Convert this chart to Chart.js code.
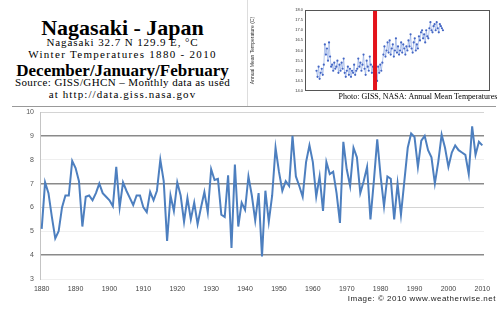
<!DOCTYPE html>
<html><head><meta charset="utf-8">
<script src="https://cdn.jsdelivr.net/npm/chart.js@4.4.1/dist/chart.umd.min.js"></script>
<style>
html,body{margin:0;padding:0;background:#fff;width:501px;height:309px;overflow:hidden;}
body{position:relative;font-family:"Liberation Serif","Times New Roman",serif;}
.t{position:absolute;left:0;width:245px;text-align:center;white-space:nowrap;color:#000;}
#title{top:17px;font-size:22px;line-height:22px;font-weight:bold;}
#l2{top:37px;font-size:11px;line-height:11px;letter-spacing:0.9px;}
#l3{top:49px;font-size:11px;line-height:11px;letter-spacing:1.3px;}
#l4{top:62px;font-size:17px;line-height:17px;font-weight:bold;}
#l5{top:77px;font-size:11px;line-height:11px;letter-spacing:0.4px;}
#l6{top:89px;font-size:11px;line-height:11px;letter-spacing:1.1px;}
#sepH{position:absolute;left:12px;top:106px;width:484px;height:1px;background:#999;}
#sepV{position:absolute;left:247px;top:0;width:1px;height:106px;background:#ddd;}
#cap{position:absolute;left:330px;width:176px;top:93px;font-size:8px;line-height:8px;text-align:center;white-space:nowrap;}
#credit{position:absolute;left:300px;width:196px;top:295px;font-family:"Liberation Sans",Arial,sans-serif;font-size:8px;line-height:8px;letter-spacing:0.5px;text-align:right;white-space:nowrap;color:#222;}
#main{position:absolute;left:0;top:100px;}
#inset{position:absolute;left:250px;top:0;}
</style></head><body>
<div class="t" id="title">Nagasaki - Japan</div>
<div class="t" id="l2">Nagasaki 32.7 N 129.9 E, °C</div>
<div class="t" id="l3">Winter Temperatures 1880 - 2010</div>
<div class="t" id="l4">December/January/February</div>
<div class="t" id="l5">Source: GISS/GHCN – Monthly data as used</div>
<div class="t" id="l6">at http://data.giss.nasa.gov</div>
<div id="sepV"></div>
<div id="sepH"></div>
<canvas id="inset" width="251" height="96"></canvas>
<div id="cap">Photo: GISS, NASA: Annual Mean Temperatures</div>
<canvas id="main" width="501" height="209"></canvas>
<div id="credit">Image: © 2010 www.weatherwise.net</div>
<script>
// ---- Main chart data: DJF winter mean temperature (°C), 1880-2010 ----
const years = [];
for (let y = 1880; y <= 2010; y++) years.push(y);
const winterTemps = [
 5.1, 7.05, 6.6, 5.6, 4.7, 5.0, 6.0, 6.5, 6.5, 7.95,   // 1880-1889
 7.65, 7.1, 5.2, 6.45, 6.5, 6.3, 6.6, 7.0, 6.6, 6.45,  // 1890-1899
 6.3, 6.05, 7.7, 6.0, 7.05, 6.7, 6.4, 6.1, 6.5, 6.5,   // 1900-1909
 6.0, 5.8, 6.65, 6.3, 6.7, 8.0, 7.1, 4.6, 6.5, 5.85,   // 1910-1919
 7.05, 6.5, 5.4, 6.4, 5.5, 6.2, 5.3, 6.0, 6.65, 5.8,   // 1920-1929
 7.6, 7.15, 7.2, 5.7, 5.6, 7.35, 4.3, 7.8, 5.2, 6.2,   // 1930-1939
 5.9, 7.3, 6.5, 5.45, 6.6, 3.95, 6.7, 5.4, 6.5, 8.5,   // 1940-1949
 7.5, 6.7, 7.1, 6.9, 9.0, 7.3, 6.9, 6.45, 7.9, 8.6,    // 1950-1959
 7.9, 6.45, 7.3, 5.85, 7.9, 7.4, 7.5, 6.6, 5.35, 8.75, // 1960-1969
 7.6, 6.9, 8.5, 8.1, 6.6, 7.1, 7.7, 5.5, 7.1, 8.85,    // 1970-1979
 7.3, 6.05, 7.3, 7.2, 5.5, 7.0, 5.7, 7.1, 8.5, 9.1,    // 1980-1989
 8.95, 7.7, 8.8, 9.0, 8.4, 8.1, 7.0, 7.9, 9.05, 8.5,   // 1990-1999
 7.7, 8.3, 8.6, 8.4, 8.3, 8.2, 7.4, 9.4, 8.2, 8.75,    // 2000-2009
 8.6                                                   // 2010
];
const yTicks = [3, 4, 5, 6, 7, 8, 9, 10];

// ---- Inset (GISS annual mean thumbnail) data ----
const insetYears = [];
for (let y = 1889; y <= 2010; y++) insetYears.push(y);
const insetTemps = [
 15.0, 14.7, 15.2, 14.6, 14.9, 15.1, 14.8,
 15.3, 16.3, 15.8, 16.1, 15.5, 16.4, 15.7, 15.2,
 15.3, 15.0, 15.4, 15.1, 15.2, 15.5, 14.9, 15.3, 15.0, 15.4, 15.1, 15.6,
 14.9, 14.7, 15.0, 15.2, 14.8, 15.1, 14.7, 15.0, 14.9, 15.3, 14.8, 15.0, 15.1, 15.6, 15.2,
 15.4, 15.0, 15.3, 15.8, 15.1, 14.8, 15.5, 15.2, 15.0, 15.7, 15.3, 14.9, 15.2, 14.7,
 14.6, 15.0, 14.5, 15.2, 14.9, 15.3, 15.0, 15.4,
 15.8, 16.2, 15.7, 16.0, 16.4, 15.9, 16.5, 15.8, 16.1, 16.3, 15.7, 16.0, 16.6, 15.9, 16.2, 15.8, 16.0, 16.4, 15.9, 16.3, 16.1, 15.8, 16.2,
 16.0, 16.5, 16.2, 16.8, 16.1, 15.9, 16.4, 16.6, 16.0, 16.3, 16.1, 16.7, 16.5, 16.9, 17.0, 16.6, 16.8, 16.4, 17.0, 16.7,
 16.6, 17.1, 17.4, 17.0, 16.9, 17.2, 17.3, 17.0, 17.4, 17.1, 16.9, 17.3, 17.2, 17.1, 17.0
];
const markerYear = 1945;
const insetYTicks = [14, 14.5, 15, 15.5, 16, 16.5, 17, 17.5, 18];

// ---- Main chart ----
new Chart(document.getElementById('main'), {
  type: 'line',
  data: {
    labels: years.map(String),
    datasets: [{
      data: winterTemps,
      borderColor: '#4d7fbf',
      borderWidth: 2,
      pointRadius: 0,
      tension: 0,
      fill: false
    }]
  },
  options: {
    responsive: false,
    animation: false,
    devicePixelRatio: 1,
    layout: { padding: { top: 12, right: 17, left: 0, bottom: 0 } },
    plugins: { legend: { display: false }, tooltip: { enabled: false } },
    scales: {
      x: {
        type: 'category',
        offset: true,
        grid: { display: false, drawTicks: false },
        border: { display: false },
        ticks: {
          autoSkip: false, maxRotation: 0, minRotation: 0,
          font: { family: 'Liberation Sans', size: 7 }, color: '#444', padding: 6,
          callback: function (v, i) { const y = years[i]; return (y % 10 === 0) ? String(y) : null; }
        },
        afterFit: s => { s.height = 30; }
      },
      y: {
        min: 3, max: 10,
        afterBuildTicks: s => { s.ticks = yTicks.map(v => ({ value: v })); },
        ticks: { font: { family: 'Liberation Sans', size: 7 }, color: '#555', padding: 6 },
        grid: {
          drawTicks: false,
          color: c => {
            const v = c.tick && c.tick.value;
            if (v === 9 || v === 7 || v === 4) return '#8a8a8a';
            if (v === 6 || v === 10) return '#d4d4d4';
            return '#efefef';
          },
          lineWidth: c => { const v = c.tick && c.tick.value; return (v === 9 || v === 7 || v === 4) ? 1.5 : 1; }
        },
        border: { display: true, color: '#c4c4c4' },
        afterFit: s => { s.width = 40; }
      }
    }
  }
});

// ---- Inset chart ----
const insetDecor = {
  id: 'insetDecor',
  afterDatasetsDraw(chart) {
    const { ctx, chartArea: a, scales: { x } } = chart;
    const px = x.getPixelForValue(markerYear);
    ctx.save();
    ctx.fillStyle = '#e3121b';
    ctx.fillRect(px - 2, a.top, 4, a.bottom - a.top);
    ctx.strokeStyle = '#555';
    ctx.lineWidth = 1;
    ctx.strokeRect(a.left + 0.5, a.top + 0.5, a.right - a.left - 1, a.bottom - a.top - 1);
    ctx.restore();
  }
};
new Chart(document.getElementById('inset'), {
  type: 'line',
  data: {
    datasets: [{
      data: insetYears.map((y, i) => ({ x: y, y: insetTemps[i] })),
      borderColor: 'rgba(130,160,225,0.6)',
      borderWidth: 1,
      pointRadius: 1.1,
      pointBackgroundColor: '#4466c4',
      pointBorderWidth: 0,
      tension: 0
    }]
  },
  options: {
    responsive: false,
    animation: false,
    devicePixelRatio: 1,
    layout: { padding: { top: 10, right: 11, left: 0, bottom: 0 } },
    plugins: { legend: { display: false }, tooltip: { enabled: false } },
    scales: {
      x: {
        type: 'linear', min: 1878, max: 2055,
        grid: { display: false, drawTicks: false },
        border: { display: false },
        ticks: { display: false },
        afterFit: s => { s.height = 5; }
      },
      y: {
        min: 14, max: 18,
        afterBuildTicks: s => { s.ticks = insetYTicks.map(v => ({ value: v })); },
        grid: { display: false, drawTicks: false },
        border: { display: false },
        ticks: { font: { family: 'Liberation Sans', size: 4 }, color: '#333', padding: 2 },
        title: { display: true, text: 'Annual Mean Temperature (C)', font: { family: 'Liberation Sans', size: 5 }, color: '#333', padding: 0 },
        afterFit: s => { s.width = 55; }
      }
    }
  },
  plugins: [insetDecor]
});
</script>
</body></html>
